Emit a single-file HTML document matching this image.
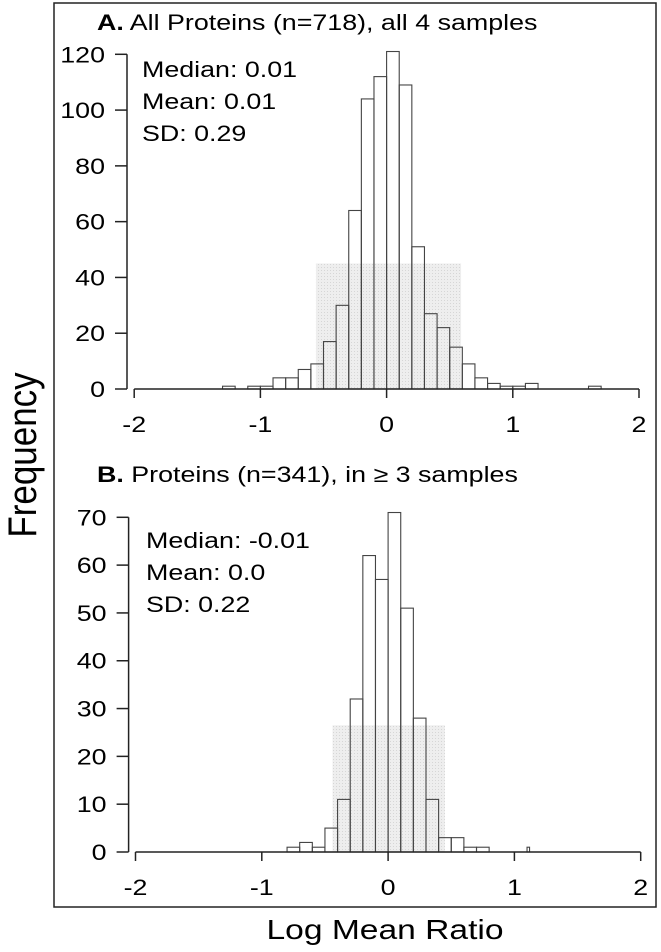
<!DOCTYPE html>
<html><head><meta charset="utf-8"><style>
html,body{margin:0;padding:0;background:#fff}
svg{display:block;font-family:"Liberation Sans",Arial,sans-serif}
</style></head><body>
<svg id="fig" width="661" height="952" viewBox="0 0 661 952" xmlns="http://www.w3.org/2000/svg">
<defs>
<pattern id="dots" width="3" height="3" patternUnits="userSpaceOnUse"><rect width="3" height="3" fill="#eeeeee"/><rect width="1" height="1" fill="#d6d6d6"/></pattern>
</defs>
<rect x="54" y="3" width="602" height="904" fill="none" stroke="#222" stroke-width="1.5"/>
<text font-size="35" text-anchor="middle" transform="translate(36 455) rotate(-90) scale(1,1.15)">Frequency</text>
<text font-size="28" text-anchor="middle" transform="translate(385 939) scale(1.2,1)">Log Mean Ratio</text>
<g id="panelA"></g>
<g id="panelB"></g>
</svg>
<script>
// Panel A data (bin left edges, width 0.1)
const binsA = [-1.3,-1.1,-1.0,-0.9,-0.8,-0.7,-0.6,-0.5,-0.4,-0.3,-0.2,-0.1,0.0,0.1,0.2,0.3,0.4,0.5,0.6,0.7,0.8,0.9,1.0,1.1,1.6];
const countsA = [1,1,1,4,4,7,9,17,30,64,104,112,121,109,51,27,22,15,9,4,2,1,1,2,1];
const yTicksA = [0,20,40,60,80,100,120];
const shadeA = [-0.56,0.59,45];
// Panel B data
const binsB = [-0.8,-0.7,-0.6,-0.5,-0.4,-0.3,-0.2,-0.1,0.0,0.1,0.2,0.3,0.4,0.5,0.6,0.7];
const countsB = [1,2,1,5,11,32,62,57,71,51,28,11,3,3,1,1];
const outlierB = [1.1,1];
const yTicksB = [0,10,20,30,40,50,60,70];
const shadeB = [-0.44,0.45,26.5];
const xTicks = [-2,-1,0,1,2];
const binW = 0.1;

const NS = "http://www.w3.org/2000/svg";
const SX = 1.22;
function mk(parent, tag, attrs, text){
  const e = document.createElementNS(NS, tag);
  for (const k in attrs) e.setAttribute(k, attrs[k]);
  if (text !== undefined) e.textContent = text;
  parent.appendChild(e);
  return e;
}
function txt(parent, x, y, size, anchor, s){
  return mk(parent,'text',{transform:'translate('+x+' '+y+') scale('+SX+',1)', 'font-size':size, 'text-anchor':anchor}, s);
}
function drawPanel(g, cfg){
  const X = v => cfg.x0 + (v - (-2)) / 4 * (cfg.x1 - cfg.x0);
  const Y = v => cfg.yb - v / cfg.ymax * (cfg.yb - cfg.yt);
  const sh = mk(g,'rect',{x:X(cfg.shade[0]), y:Y(cfg.shade[2]), width:X(cfg.shade[1])-X(cfg.shade[0]), height:cfg.yb-Y(cfg.shade[2]), fill:'url(#dots)'});
  
  
  cfg.bins.forEach((b,i)=>{
    const r = mk(g,'rect',{x:X(b), y:Y(cfg.counts[i]), width:X(b+binW)-X(b), height:cfg.yb-Y(cfg.counts[i]), fill:'none', stroke:'#444', 'stroke-width':1.1});
    
    
  });
  if (cfg.outlier){
    const r = mk(g,'rect',{x:X(cfg.outlier[0]), y:Y(cfg.outlier[1]), width:X(cfg.outlier[0]+0.02)-X(cfg.outlier[0]), height:cfg.yb-Y(cfg.outlier[1]), fill:'none', stroke:'#444', 'stroke-width':1.1});
    
    
  }
  const xa = mk(g,'line',{x1:X(-2), x2:X(2), y1:cfg.yb, y2:cfg.yb, stroke:'#222','stroke-width':1.5});
  
  
  xTicks.forEach(t=>{
    mk(g,'line',{x1:X(t),x2:X(t),y1:cfg.yb,y2:cfg.yb+9,stroke:'#222','stroke-width':1.5});
    const tl = txt(g, X(t), cfg.yb+43, 22, 'middle', String(t));
    
    
  });
  const ymaxTick = cfg.yTicks[cfg.yTicks.length-1];
  const ya = mk(g,'line',{x1:cfg.ax, x2:cfg.ax, y1:Y(0), y2:Y(ymaxTick), stroke:'#222','stroke-width':1.5});
  
  
  cfg.yTicks.forEach(t=>{
    mk(g,'line',{x1:cfg.ax-12,x2:cfg.ax,y1:Y(t),y2:Y(t),stroke:'#222','stroke-width':1.5});
    const tl = txt(g, cfg.ax-22, Y(t)+8, 22, 'end', String(t));
    
    
  });
  const tt = mk(g,'text',{transform:'translate(97 '+cfg.titleY+') scale('+SX+',1)', 'font-size':22});
  
  
  mk(tt,'tspan',{'font-weight':'bold'}, cfg.titleBold);
  mk(tt,'tspan',{}, cfg.title);
  cfg.stats.forEach((s,i)=>{
    const st = txt(g, cfg.statsX, cfg.statsY + i*32, 22, 'start', s);
    
    
  });
}
drawPanel(document.getElementById('panelA'), {
  x0:134.2, x1:639, yb:389, yt:54.3, ymax:120, ax:127,
  bins:binsA, counts:countsA, yTicks:yTicksA, shade:shadeA,
  titleY:30, titleBold:'A.', title:' All Proteins (n=718), all 4 samples',
  stats:['Median: 0.01','Mean: 0.01','SD: 0.29'], statsX:142, statsY:77
});
drawPanel(document.getElementById('panelB'), {
  x0:135.5, x1:640.7, yb:852, yt:517.3, ymax:70, ax:128.6,
  bins:binsB, counts:countsB, outlier:outlierB, yTicks:yTicksB, shade:shadeB,
  titleY:482, titleBold:'B.', title:' Proteins (n=341), in \u2265 3 samples',
  stats:['Median: -0.01','Mean: 0.0','SD: 0.22'], statsX:146, statsY:548
});
</script>
</body></html>
